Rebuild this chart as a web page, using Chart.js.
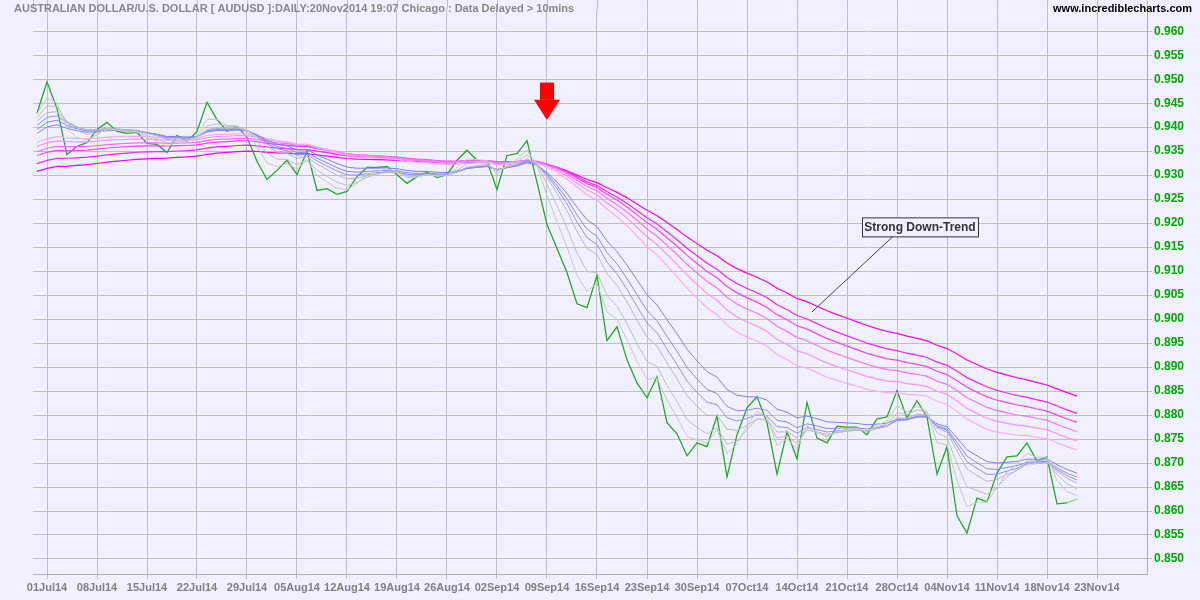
<!DOCTYPE html>
<html><head><meta charset="utf-8">
<script src="https://cdn.jsdelivr.net/npm/chart.js@4"></script>
<style>html,body{margin:0;padding:0;background:#f0f0ff}#wrap{width:1200px;height:600px}</style>
</head><body><div id="wrap"><canvas id="c" width="1200" height="600"></canvas></div>
<script>
const tickLabels = ["01Jul14","08Jul14","15Jul14","22Jul14","29Jul14","05Aug14","12Aug14","19Aug14","26Aug14","02Sep14","09Sep14","16Sep14","23Sep14","30Sep14","07Oct14","14Oct14","21Oct14","28Oct14","04Nov14","11Nov14","18Nov14","23Nov14"];
const closes = [0.9429,0.9494,0.9439,0.9343,0.9360,0.9368,0.9395,0.9410,0.9391,0.9387,0.9389,0.9366,0.9364,0.9347,0.9383,0.9370,0.9391,0.9452,0.9416,0.9391,0.9402,0.9379,0.9329,0.9291,0.9310,0.9331,0.9301,0.9350,0.9268,0.9272,0.9260,0.9266,0.9297,0.9316,0.9316,0.9318,0.9301,0.9283,0.9297,0.9306,0.9295,0.9301,0.9331,0.9352,0.9331,0.9329,0.9270,0.9341,0.9345,0.9372,0.9285,0.9197,0.9147,0.9097,0.9032,0.9024,0.9091,0.8955,0.8984,0.8915,0.8867,0.8836,0.8880,0.8784,0.8761,0.8715,0.8742,0.8734,0.8798,0.8671,0.8759,0.8815,0.8838,0.8784,0.8677,0.8765,0.8709,0.8826,0.8752,0.8742,0.8777,0.8775,0.8775,0.8759,0.8792,0.8796,0.8851,0.8794,0.8830,0.8796,0.8677,0.8734,0.8590,0.8554,0.8627,0.8619,0.8679,0.8713,0.8715,0.8742,0.8704,0.8713,0.8615,0.8617,0.8625];
const shortPeriods = [3,5,8,10,12,15];
const shortSeeds = [0.9428,0.9420,0.9412,0.9404,0.9395,0.9387];
const shortColors = ["#c8c8c8","#c0c0c0","#b8b8c8","#9090ff","#8888ff","#8080ff"];
const longPeriods = [30,35,40,45,50,60];
const longSeeds = [0.9368,0.9360,0.9349,0.9341,0.9324,0.9308];
const longColors = ["#ffa8ff","#ff90ff","#ff70ff","#ff40ff","#ff20ff","#ff00ff"];
const yTicks = [];
for (let k=0;k<=22;k++) yTicks.push(+(0.850+k*0.005).toFixed(3));

function ema(period, seed){
  const a = 2/(period+1); const out=[]; let e=seed;
  closes.forEach((c,i)=>{ if(i>0) e = e + a*(c-e); out.push({x:i,y:e}); });
  return out;
}
const datasets = [];
shortPeriods.forEach((p,i)=>datasets.push({data:ema(p,shortSeeds[i]),borderColor:shortColors[i],borderWidth:1,pointRadius:0,tension:0}));
longPeriods.forEach((p,i)=>datasets.push({data:ema(p,longSeeds[i]),borderColor:longColors[i],borderWidth:1.2,pointRadius:0,tension:0}));
const lastIdx = closes.length-1;
datasets.push({data:closes.map((v,i)=>({x:i,y:v})),borderColor:"#22aa22",borderWidth:1.3,pointRadius:0,tension:0,
  segment:{borderColor:ctx=>ctx.p1DataIndex===lastIdx?"#80e080":undefined}});

const bg = {id:'bg',beforeDraw(ch){const c=ch.ctx;c.save();c.fillStyle='#f0f0ff';c.fillRect(0,0,ch.width,ch.height);
  const xs=ch.scales.x, a=ch.chartArea; c.strokeStyle='#c0c0c0';c.lineWidth=1;
  xs.ticks.forEach(t=>{const x=Math.round(xs.getPixelForValue(t.value))+0.5;c.beginPath();c.moveTo(x,0);c.lineTo(x,a.top);c.stroke();});
  c.beginPath();c.moveTo(a.left+0.5,0);c.lineTo(a.left+0.5,a.top);c.moveTo(a.right+0.5,0);c.lineTo(a.right+0.5,a.top);c.stroke();
  c.restore();}};
const deco = {id:'deco',afterDraw(ch){
  const c=ch.ctx, xs=ch.scales.x, ys=ch.scales.y;
  c.save();
  c.font='bold 11px "Liberation Sans", Arial';c.fillStyle='#888888';c.textBaseline='top';c.textAlign='left';
  c.fillText('AUSTRALIAN DOLLAR/U.S. DOLLAR [ AUDUSD ]:DAILY:20Nov2014 19:07 Chicago : Data Delayed > 10mins',14,3);
  c.fillStyle='#000';c.textAlign='right';
  c.fillText('www.incrediblecharts.com',1192,3);
  const ax=xs.getPixelForValue(51), top=ys.getPixelForValue(0.9493), mid=ys.getPixelForValue(0.9457), tip=ys.getPixelForValue(0.9415);
  c.fillStyle='#ff0000';c.fillRect(ax-7,top,14,mid-top);
  c.beginPath();c.moveTo(ax-13,mid);c.lineTo(ax+13,mid);c.lineTo(ax,tip);c.closePath();c.fill();
  const px=xs.getPixelForValue(77.5), py=ys.getPixelForValue(0.9015);
  const bx=xs.getPixelForValue(82.5), by=ys.getPixelForValue(0.9212);
  c.strokeStyle='#444';c.lineWidth=1;c.beginPath();c.moveTo(px,py);c.lineTo(bx+31,by+19);c.stroke();
  c.fillStyle='#f0f0ff';c.fillRect(bx,by,116,19);c.strokeStyle='#333';c.strokeRect(bx+0.5,by+0.5,116,19);
  c.fillStyle='#333';c.font='bold 12px "Liberation Sans", Arial';c.textAlign='center';c.textBaseline='middle';
  c.fillText('Strong Down-Trend',bx+58,by+10.5);
  c.restore();
}};

new Chart(document.getElementById('c'),{
  type:'line',
  data:{datasets},
  options:{
    responsive:false,animation:false,devicePixelRatio:1,
    layout:{padding:{left:33,top:0,right:0,bottom:0}},
    plugins:{legend:{display:false},tooltip:{enabled:false}},
    scales:{
      x:{type:'linear',min:-0.4,max:111,
        afterBuildTicks(s){s.ticks=tickLabels.map((t,k)=>({value:1+5*k}));},
        afterFit(s){s.height=26;},
        ticks:{autoSkip:false,maxRotation:0,padding:2,color:'#808080',font:{family:'"Liberation Sans", Arial',size:11,weight:'bold'},
          callback(v){const k=(v-1)/5;return tickLabels[k]!==undefined?tickLabels[k]:'';}},
        grid:{color:'#c0c0c0',lineWidth:1,tickLength:5,drawTicks:true},border:{color:'#b0b0b0'}},
      y:{type:'linear',position:'right',min:0.84687,max:0.96459,
        afterBuildTicks(s){s.ticks=yTicks.map(v=>({value:v}));},
        afterFit(s){s.width=53;},
        ticks:{autoSkip:false,padding:2,color:'#00aa00',font:{family:'"Liberation Sans", Arial',size:12,weight:'bold'},
          callback(v){return v.toFixed(3);}},
        grid:{color:'#c0c0c0',lineWidth:1,tickLength:5,tickColor:'#c0c0c0'},border:{color:'#b0b0b0'}}
    }
  },
  plugins:[bg,deco]
});
</script></body></html>
